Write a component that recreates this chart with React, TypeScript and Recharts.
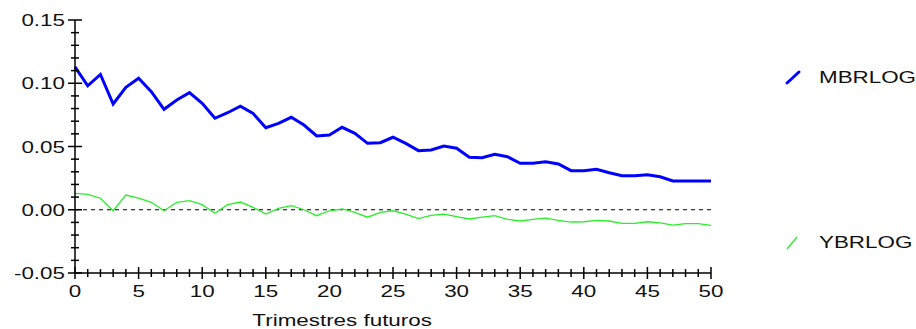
import React from "react";
import { LineChart, Line, XAxis, YAxis, ReferenceLine } from "recharts";

// ── Data ───────────────────────────────────────────────────────────────────

const seriesNames = ["MBRLOG", "YBRLOG"];

const mbrlog = [
  0.113, 0.098, 0.107, 0.0836, 0.0968, 0.104, 0.0934, 0.0794, 0.0868, 0.0926,
  0.0841, 0.0723, 0.0767, 0.0818, 0.0762, 0.0649, 0.0683, 0.0731, 0.067, 0.0583,
  0.0591, 0.0652, 0.0604, 0.0525, 0.053, 0.0573, 0.0525, 0.0467, 0.0472, 0.0504,
  0.0486, 0.0415, 0.0412, 0.0438, 0.0419, 0.0367, 0.0367, 0.038, 0.0362, 0.0309,
  0.0309, 0.032, 0.0293, 0.0269, 0.0269, 0.0277, 0.0261, 0.0227, 0.0227, 0.0227,
  0.0227,
];

const ybrlog = [
  0.013, 0.0122, 0.0091, -0.0008, 0.0116, 0.0091, 0.0059, -0.0008, 0.0059, 0.0072,
  0.004, -0.0028, 0.004, 0.0061, 0.0019, -0.0034, 0.0011, 0.0032, 0.0, -0.0047,
  -0.0008, 0.0006, -0.0021, -0.0059, -0.0021, -0.0008, -0.0034, -0.007, -0.0044, -0.0034,
  -0.0055, -0.0073, -0.0059, -0.0047, -0.0076, -0.0089, -0.0076, -0.0066, -0.0084, -0.0097,
  -0.0095, -0.0084, -0.0089, -0.0108, -0.0108, -0.0095, -0.0103, -0.0121, -0.011, -0.011,
  -0.0124,
];

const yTicks = [
  -0.05, -0.04, -0.03, -0.02, -0.01, 0, 0.01, 0.02, 0.03, 0.04, 0.05,
  0.06, 0.07, 0.08, 0.09, 0.1, 0.11, 0.12, 0.13, 0.14, 0.15,
];

const xTicks = mbrlog.map((_, i) => i); // one tick per quarter, labels every 5

const xLabel = "Trimestres futuros";

const chartData = mbrlog.map((m, i) => ({ t: i, MBRLOG: m, YBRLOG: ybrlog[i] }));

// ── Styles ─────────────────────────────────────────────────────────────────

const colors = {
  blue: "#0000ff",
  green: "#2aee2a",
  axis: "#000",
  text: "#111",
};

const font = "'Liberation Sans', Arial, sans-serif";
const stretch = 1.4; // the original text is drawn wide

function WideText({ x, y, anchor, children }: any) {
  return (
    <text
      transform={`translate(${x},${y}) scale(${stretch},1)`}
      textAnchor={anchor}
      fontFamily={font}
      fontSize={16}
      fill={colors.text}
    >
      {children}
    </text>
  );
}

function YTick({ x, y, payload }: any) {
  const v = payload.value;
  const major = Math.abs(Math.round(v * 100)) % 5 === 0;
  const h = major ? 7 : 4;
  return (
    <g>
      <line x1={x - h} x2={x + h} y1={y} y2={y} stroke={colors.axis} strokeWidth={1.5} />
      {major && (
        <WideText x={x - 10} y={y + 6} anchor="end">
          {v.toFixed(2)}
        </WideText>
      )}
    </g>
  );
}

function XTick({ x, y, payload }: any) {
  const v = payload.value;
  const major = v % 5 === 0;
  const h = major ? 6 : 4;
  return (
    <g>
      <line x1={x} x2={x} y1={y - h} y2={y + h} stroke={colors.axis} strokeWidth={1.5} />
      {major && (
        <WideText x={x} y={y + 24} anchor="middle">
          {v}
        </WideText>
      )}
    </g>
  );
}

function AxisTitle({ viewBox }: any) {
  const { x, y, width } = viewBox;
  return (
    <WideText x={x + width * 0.42} y={y + 53} anchor="middle">
      {xLabel}
    </WideText>
  );
}

// ── Main Component ─────────────────────────────────────────────────────────

export default function App() {
  return (
    <div
      style={{
        position: "absolute",
        left: 0,
        top: 0,
        width: 916,
        height: 329,
        background: "#fff",
        overflow: "hidden",
      }}
    >
      <LineChart
        width={916}
        height={329}
        data={chartData}
        margin={{ top: 20, right: 205, bottom: 26, left: 15 }}
      >
        <XAxis
          dataKey="t"
          type="number"
          domain={[0, 50]}
          ticks={xTicks}
          interval={0}
          height={30}
          tickSize={0}
          tickMargin={0}
          tickLine={false}
          axisLine={{ stroke: colors.axis, strokeWidth: 1.5 }}
          tick={<XTick />}
          label={<AxisTitle />}
        />
        <YAxis
          type="number"
          domain={[-0.05, 0.15]}
          ticks={yTicks}
          interval={0}
          width={60}
          tickSize={0}
          tickMargin={0}
          tickLine={false}
          axisLine={{ stroke: colors.axis, strokeWidth: 1.5 }}
          tick={<YTick />}
        />
        <ReferenceLine y={0} stroke="#000" strokeWidth={1.1} strokeDasharray="4 4" />
        <Line
          dataKey="MBRLOG"
          type="linear"
          stroke={colors.blue}
          strokeWidth={3}
          dot={false}
          isAnimationActive={false}
        />
        <Line
          dataKey="YBRLOG"
          type="linear"
          stroke={colors.green}
          strokeWidth={1.3}
          dot={false}
          isAnimationActive={false}
        />
      </LineChart>

      {/* legend, placed to the right of the plot like the original */}
      <svg
        width={916}
        height={329}
        style={{ position: "absolute", left: 0, top: 0, pointerEvents: "none" }}
      >
        <line x1={787} y1={83} x2={799} y2={72} stroke={colors.blue} strokeWidth={3} strokeLinecap="round" />
        <WideText x={819} y={83} anchor="start">
          {seriesNames[0]}
        </WideText>
        <line x1={787} y1={249} x2={797} y2={237} stroke={colors.green} strokeWidth={1.3} />
        <WideText x={819} y={248} anchor="start">
          {seriesNames[1]}
        </WideText>
      </svg>
    </div>
  );
}
